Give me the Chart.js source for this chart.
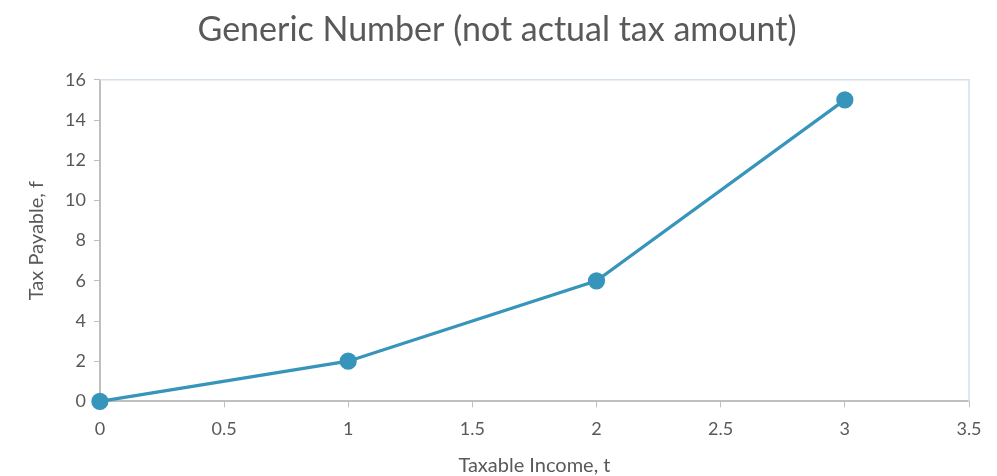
<!DOCTYPE html>
<html>
<head>
<meta charset="utf-8">
<script src="https://cdn.jsdelivr.net/npm/chart.js@4/dist/chart.umd.min.js"></script>
<style>
  html, body { margin: 0; padding: 0; background: #fff; }
  #wrap { width: 997px; height: 476px; }
</style>
</head>
<body>
<div id="wrap"><canvas id="myChart"></canvas></div>
<script>
const income = [0, 1, 2, 3];
const taxPayable = [0, 2, 6, 15];
const xTicks = [0, 0.5, 1, 1.5, 2, 2.5, 3, 3.5];
const yTicks = [0, 2, 4, 6, 8, 10, 12, 14, 16];

const textColor = '#595959';
const axisColor = '#bfbfbf';
const lineColor = '#3794bb';
const fontFamily = "'Lato', 'Open Sans', sans-serif";

// top and right edges of the plot box
const frame = {
  id: 'frame',
  afterDraw(chart) {
    const { ctx, chartArea: a } = chart;
    ctx.save();
    ctx.strokeStyle = '#d3dfea';
    ctx.lineWidth = 1.5;
    ctx.beginPath();
    ctx.moveTo(a.left, a.top);
    ctx.lineTo(a.right, a.top);
    ctx.lineTo(a.right, a.bottom);
    ctx.stroke();
    ctx.restore();
  }
};

const ctx = document.getElementById('myChart');

new Chart(ctx, {
  type: 'scatter',
  data: {
    datasets: [{
      label: 'Tax Payable',
      data: income.map((x, i) => ({ x: x, y: taxPayable[i] })),
      showLine: true,
      borderColor: lineColor,
      backgroundColor: lineColor,
      borderWidth: 3.2,
      pointRadius: 7,
      pointHoverRadius: 7,
      clip: false
    }]
  },
  plugins: [frame],
  options: {
    responsive: true,
    maintainAspectRatio: false,
    animation: false,
    layout: { padding: { top: 4, right: 28, bottom: 0, left: 25 } },
    plugins: {
      legend: { display: false },
      tooltip: { enabled: false },
      title: {
        display: true,
        text: 'Generic Number (not actual tax amount)',
        color: textColor,
        font: { family: fontFamily, size: 34, weight: 'normal' },
        padding: { top: 6, bottom: 29 }
      }
    },
    scales: {
      x: {
        type: 'linear',
        min: 0,
        max: 3.5,
        afterBuildTicks: axis => { axis.ticks = xTicks.map(v => ({ value: v })); },
        grid: { drawOnChartArea: false, color: axisColor, tickLength: 6, tickColor: axisColor },
        border: { color: axisColor, width: 2 },
        ticks: {
          color: textColor,
          font: { family: fontFamily, size: 18 },
          padding: 11,
          maxRotation: 0,
          callback: v => String(v)
        },
        title: {
          display: true,
          text: 'Taxable Income, t',
          color: textColor,
          font: { family: fontFamily, size: 20, lineHeight: 1 },
          padding: { top: 5, bottom: 0 }
        }
      },
      y: {
        min: 0,
        max: 16,
        afterBuildTicks: axis => { axis.ticks = yTicks.map(v => ({ value: v })); },
        grid: { drawOnChartArea: false, color: axisColor, tickLength: 6, tickColor: axisColor },
        border: { color: axisColor, width: 2 },
        ticks: { color: textColor, font: { family: fontFamily, size: 18 }, padding: 8 },
        title: {
          display: true,
          text: 'Tax Payable, f',
          color: textColor,
          font: { family: fontFamily, size: 20 },
          padding: { top: 0, bottom: 8 }
        }
      }
    }
  }
});
</script>
</body>
</html>
